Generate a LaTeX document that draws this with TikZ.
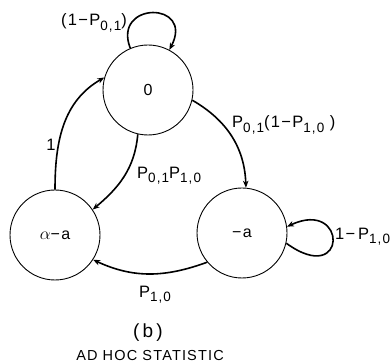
\documentclass[tikz,border=0pt]{standalone}
\usepackage{fontspec}
\setmainfont{Liberation Sans}
\newfontfamily\spacedfont[LetterSpace=8]{Liberation Sans}
\usetikzlibrary{arrows.meta}
\newcommand{\lowidx}[1]{\raisebox{-0.5ex}{\fontsize{13.5}{13.5}\selectfont #1}}

\begin{document}
\begin{tikzpicture}[x=1pt,y=1pt,>={Stealth[length=7pt,width=5.5pt]},
  state/.style={draw,circle,line width=0.9pt,minimum size=90pt,inner sep=0pt,font=\spacedfont\fontsize{16}{18}\selectfont},
  trans/.style={->,line width=1.6pt},
  lbl/.style={font=\spacedfont\fontsize{16.5}{18}\selectfont,inner sep=1pt}]
  \useasboundingbox (0,-363) rectangle (391,0);
  % states
  \node[state] (s0) at (148,-90) {0};
  \node[state] (sb) at (55,-235) {$\alpha$−a};
  \node[state] (sa) at (242,-233) {−a};
  % transitions
  \draw[trans] (s0.113) .. controls (112,-1) and (195,-1) .. (s0.62);
  \draw[trans] (sa.-13) .. controls (348,-288) and (348,-198) .. (sa.8);
  \draw[trans] (s0.-13) to[out=-30,in=92] (sa.85);
  \draw[trans] (s0.257) to[out=-95,in=40] (sb.34);
  \draw[trans] (sb.90) to[out=90,in=210] (s0.164);
  \draw[trans] (sa.220) to[out=200,in=-25] (sb.-33);
  % labels
  \node[lbl] (l00) at (94,-23) {(1−P\lowidx{0,1})};
  \node[lbl,anchor=west] (l0a) at (231,-125) {P\lowidx{0,1}(1−P\lowidx{1,0}\,\,)};
  \node[lbl,anchor=west] (l0b) at (136,-176) {P\lowidx{0,1}P\lowidx{1,0}};
  \node[lbl] (lb0) at (51,-145) {1};
  \node[lbl] (lab) at (155,-295) {P\lowidx{1,0}};
  \node[lbl,anchor=west] (laa) at (334,-237) {1−\,P\lowidx{1,0}};
  % caption
  \node[font=\spacedfont\fontsize{19}{21}\selectfont] (cap) at (148,-333) {(\,b\,)};
  \node[font=\spacedfont\fontsize{14.5}{16}\selectfont] (title) at (150,-356) {AD HOC STATISTIC};
\end{tikzpicture}
\end{document}
